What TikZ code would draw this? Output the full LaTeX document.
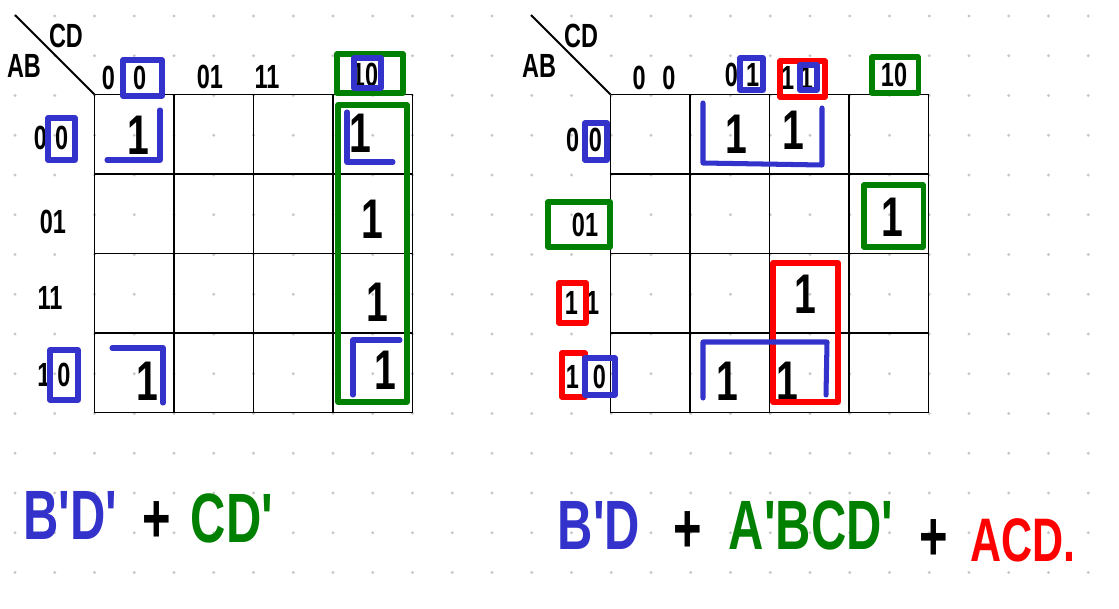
\documentclass[tikz,border=0pt]{standalone}
\usepackage{fontspec}
\usepackage{tikz}
\newfontfamily\hand{Liberation Sans}[FakeStretch=0.7]
\definecolor{penblue}{RGB}{51,51,204}
\definecolor{pengreen}{RGB}{0,128,0}
\definecolor{penred}{RGB}{255,0,0}
\definecolor{dotgray}{RGB}{200,200,200}

\begin{document}
\begin{tikzpicture}[x=0.025157cm, y=-0.025157cm,
    gridline/.style={draw=black, line width=1.4pt},
    loop/.style={line width=3.6pt, line cap=round, line join=round},
    lbl/.style={inner sep=0pt, font=\hand\bfseries\fontsize{24}{24}\selectfont},
    one/.style={inner sep=0pt, font=\hand\bfseries\fontsize{40}{40}\selectfont},
    term/.style={inner sep=0pt, font=\hand\bfseries\fontsize{50}{50}\selectfont}]
    \useasboundingbox[fill=white] (0,0) rectangle (1119,608);
    \foreach \i in {0,...,27}
        \foreach \j in {0,...,14}
            \fill[dotgray] (15+39.75*\i,16+39.75*\j) circle (1.7);

    \foreach \k in {0,...,4} {
        \draw[gridline] (94.5+79.5*\k,94.5) -- (94.5+79.5*\k,412.5);
        \draw[gridline] (94.5,94.5+79.5*\k) -- (412.5,94.5+79.5*\k);
        \draw[gridline] (610.5+79.5*\k,94.5) -- (610.5+79.5*\k,412.5);
        \draw[gridline] (610.5,94.5+79.5*\k) -- (928.5,94.5+79.5*\k);
    }
    \draw[gridline] (15,15) -- (94.5,94.5);
    \draw[gridline] (531,15) -- (610.5,94.5);

    \node[lbl] (lcd) at (66,36) {CD};
    \node[lbl] (lab) at (24,66) {AB};
    \node[lbl] (lc00) at (124,78) {0\hspace{13pt}0};
    \node[lbl] (lc01) at (210,77) {01};
    \node[lbl] (lc11) at (267,77) {11};
    \node[lbl] (lc10) at (365,75) {10};
    \node[lbl] (lr00) at (51,138) {0\hspace{6pt}0};
    \node[lbl] (lr01) at (53,222) {01};
    \node[lbl] (lr11) at (50,298) {11};
    \node[lbl] (lr10) at (54,375) {1\hspace{5pt}0};

    \node[one] (l0000) at (138,135) {1};
    \node[one] (l0010) at (360,133) {1};
    \node[one] (l0110) at (372,219) {1};
    \node[one] (l1110) at (377,302) {1};
    \node[one] (l1010) at (385,370) {1};
    \node[one] (l1000) at (147,381) {1};

    \draw[loop, penblue] (123,60) rectangle (162,96);
    \draw[loop, pengreen] (337,54) rectangle (403,93);
    \draw[loop, penblue] (354,58) rectangle (381,88);
    \draw[loop, penblue] (48,118) rectangle (75,160);
    \draw[loop, penblue] (50,350) rectangle (78,400);
    \draw[loop, penblue] (160,110) -- (160,160) -- (107,160);
    \draw[loop, penblue] (112,348) -- (163,348) -- (163,403);
    \draw[loop, penblue] (347,112) -- (347,162) -- (393,162);
    \draw[loop, penblue] (353,395) -- (353,340) -- (400,340);
    \draw[loop, pengreen] (338,105) rectangle (407,402);

    \node[lbl] (rcd) at (581,36) {CD};
    \node[lbl] (rab) at (539,66) {AB};
    \node[lbl] (rc00) at (654,78) {0\hspace{12pt}0};
    \node[lbl] (rc01) at (742,75) {0\hspace{6pt}1};
    \node[lbl] (rc11) at (797,78) {1\hspace{4pt}1};
    \node[lbl] (rc10) at (894,75) {10};
    \node[lbl] (rr00) at (584,140) {0\hspace{7pt}0};
    \node[lbl] (rr01) at (585,225) {01};
    \node[lbl] (rr11) at (582,303) {1\hspace{6pt}1};
    \node[lbl] (rr10) at (586,377) {1\hspace{10pt}0};

    \node[one] (r0001) at (736,134) {1};
    \node[one] (r0011) at (793,130) {1};
    \node[one] (r0110) at (892,217) {1};
    \node[one] (r1111) at (805,294) {1};
    \node[one] (r1001) at (727,381) {1};
    \node[one] (r1011) at (787,381) {1};

    \draw[loop, penblue] (740,58) rectangle (763,90);
    \draw[loop, penred] (780,61) rectangle (825,97);
    \draw[loop, penblue] (800,65) rectangle (817,90);
    \draw[loop, pengreen] (872,57) rectangle (918,93);
    \draw[loop, penblue] (585,123) rectangle (607,160);
    \draw[loop, pengreen] (548,202) rectangle (610,247);
    \draw[loop, penred] (559,283) rectangle (586,323);
    \draw[loop, penred] (562,353) rectangle (585,397);
    \draw[loop, penblue] (585,358) rectangle (615,395);
    \draw[loop, penblue] (703,103) -- (703,163) -- (822,165) -- (822,108);
    \draw[loop, pengreen] (864,185) rectangle (923,247);
    \draw[loop, penred] (773,263) rectangle (838,402);
    \draw[loop, penblue] (703,398) -- (703,342) -- (827,342) -- (826,395);

    \node[term, penblue] (lt1) at (70,515) {B'D'};
    \node[term] (lplus) at (157,522) {+};
    \node[term, pengreen] (lt2) at (232,518) {CD'};
    \node[term, penblue] (rt1) at (599,525) {B'D};
    \node[term] (rplus1) at (688,532) {+};
    \node[term, pengreen] (rt2) at (811,525) {A'BCD'};
    \node[term] (rplus2) at (934,540) {+};
    \node[term, penred, font=\hand\bfseries\fontsize{44}{44}\selectfont] (rt3) at (1023,540) {ACD.};
\end{tikzpicture}
\end{document}
